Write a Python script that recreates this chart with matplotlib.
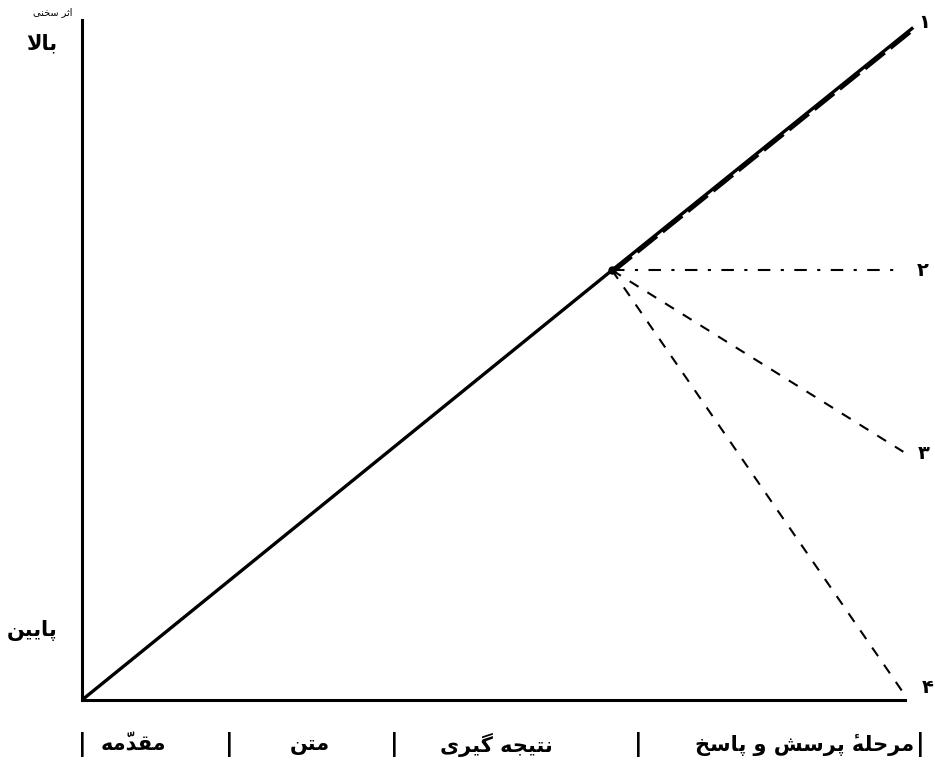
import matplotlib
matplotlib.use("Agg")
import matplotlib.pyplot as plt
import matplotlib.transforms as mtransforms

# ---- data (x: progress of the talk 0..100, y: effect 0..100) ----
main_x = [0, 64.4, 101.0]
main_y = [0, 63.2, 98.9]
branch_start = (64.4, 63.2)
branch_ends = {
    "2": (99.4, 63.2),
    "3": (99.8, 36.5),
    "4": (100.0, 0.7),
}
line_labels = ["۱", "۲", "۳", "۴"]
label_pos_x = [101.6, 101.4, 101.5, 102.0]
label_pos_y = [99.6, 63.2, 36.3, 1.8]

stage_names = ["مقدّمه", "متن", "نتیجه گیری", "مرحلهٔ پرسش و پاسخ"]
stage_centers = [6.2, 27.7, 50.3, 87.8]
stage_bounds = [0.0, 17.9, 37.9, 67.6, 101.8]

y_names = ["پایین", "بالا"]
y_pos = [10.6, 96.8]
y_title = "اثر سخنی"

# ---- minimal Persian shaping (matplotlib has no bidi / joining) ----
FORMS = {  # iso, fin, ini, med
    "ا": ("\uFE8D", "\uFE8E", None, None),
    "ب": ("\uFE8F", "\uFE90", "\uFE91", "\uFE92"),
    "پ": ("\uFB56", "\uFB57", "\uFB58", "\uFB59"),
    "ت": ("\uFE95", "\uFE96", "\uFE97", "\uFE98"),
    "ث": ("\uFE99", "\uFE9A", "\uFE9B", "\uFE9C"),
    "ج": ("\uFE9D", "\uFE9E", "\uFE9F", "\uFEA0"),
    "ح": ("\uFEA1", "\uFEA2", "\uFEA3", "\uFEA4"),
    "خ": ("\uFEA5", "\uFEA6", "\uFEA7", "\uFEA8"),
    "د": ("\uFEA9", "\uFEAA", None, None),
    "ر": ("\uFEAD", "\uFEAE", None, None),
    "س": ("\uFEB1", "\uFEB2", "\uFEB3", "\uFEB4"),
    "ش": ("\uFEB5", "\uFEB6", "\uFEB7", "\uFEB8"),
    "ق": ("\uFED5", "\uFED6", "\uFED7", "\uFED8"),
    "ل": ("\uFEDD", "\uFEDE", "\uFEDF", "\uFEE0"),
    "م": ("\uFEE1", "\uFEE2", "\uFEE3", "\uFEE4"),
    "ن": ("\uFEE5", "\uFEE6", "\uFEE7", "\uFEE8"),
    "ه": ("\uFEE9", "\uFEEA", "\uFEEB", "\uFEEC"),
    "و": ("\uFEED", "\uFEEE", None, None),
    "ی": ("\uFBFC", "\uFBFD", "\uFBFE", "\uFBFF"),
    "گ": ("\uFB92", "\uFB93", "\uFB94", "\uFB95"),
}
MARKS = {"\u0651", "\u0654"}


def shape(text):
    chars = list(text)

    def prev_letter(i):
        j = i - 1
        while j >= 0 and chars[j] in MARKS:
            j -= 1
        return chars[j] if j >= 0 and chars[j] in FORMS else None

    def next_letter(i):
        j = i + 1
        while j < len(chars) and chars[j] in MARKS:
            j += 1
        return chars[j] if j < len(chars) and chars[j] in FORMS else None

    clusters = []
    i = 0
    while i < len(chars):
        c = chars[i]
        if c in FORMS:
            p = prev_letter(i)
            n = next_letter(i)
            join_prev = p is not None and FORMS[p][2] is not None
            if c == "ل" and n == "ا":
                clusters.append("\uFEFC" if join_prev else "\uFEFB")
                i += 2
                continue
            join_next = FORMS[c][2] is not None and n is not None
            iso, fin, ini, med = FORMS[c]
            if join_prev and join_next:
                g = med
            elif join_prev:
                g = fin
            elif join_next:
                g = ini
            else:
                g = iso
            clusters.append(g)
        elif c in MARKS and clusters:
            # zero-width mark is drawn over the glyph that follows it
            clusters[-1] = c + clusters[-1]
        else:
            clusters.append(c)
        i += 1
    return "".join(reversed(clusters))


plt.rcParams["font.family"] = ["DejaVu Sans"]

fig = plt.figure(figsize=(9.35, 7.62), dpi=100)
ax = fig.add_axes([82 / 935, 62 / 762, 823 / 935, 680 / 762])
ax.set_xlim(0, 100)
ax.set_ylim(0, 100)

for s in ("top", "right"):
    ax.spines[s].set_visible(False)
for s in ("left", "bottom"):
    ax.spines[s].set_linewidth(2.2)
    ax.spines[s].set_color("black")

# main line and its dashed continuation (curve 1)
ax.plot(main_x, main_y, color="black", lw=2.4, solid_capstyle="butt", clip_on=False)
ax.plot(main_x[1:], [v - 0.35 for v in main_y[1:]], color="black", lw=2.6,
        dashes=(7, 2), clip_on=False)
ax.plot([branch_start[0]], [branch_start[1]], "o", color="black", ms=5, clip_on=False)

# branches 2, 3, 4
bx, by = branch_start
ex, ey = branch_ends["2"]
ax.plot([bx, ex], [by, ey], color="black", lw=1.5, dashes=(6, 5, 1.5, 5), clip_on=False)
ex, ey = branch_ends["3"]
ax.plot([bx, ex], [by, ey], color="black", lw=1.5, dashes=(5, 5), clip_on=False)
ex, ey = branch_ends["4"]
ax.plot([bx, ex], [by, ey], color="black", lw=1.5, dashes=(5, 5), clip_on=False)

for lab, lx, ly in zip(line_labels, label_pos_x, label_pos_y):
    ax.text(lx, ly, lab, fontsize=14, fontweight="bold", ha="left", va="center",
            clip_on=False)

# y axis labels
ax.set_yticks(y_pos)
ax.set_yticklabels([shape(t) for t in y_names], fontsize=15, fontweight="bold")
ax.tick_params(axis="y", length=0, pad=18)
ax.set_xticks([])
ax.text(-1.2, 100.5, shape(y_title), fontsize=7, ha="right", va="bottom",
        clip_on=False)

# stage labels under the x axis
trans = mtransforms.blended_transform_factory(ax.transData, ax.transAxes)
for name, cx in zip(stage_names, stage_centers):
    ax.text(cx, -0.066, shape(name), transform=trans, fontsize=15,
            fontweight="bold", ha="center", va="center", clip_on=False)
for bxp in stage_bounds:
    ax.text(bxp, -0.066, "|", transform=trans, fontsize=17, fontweight="bold",
            ha="center", va="center", clip_on=False)

fig.savefig("out.png", dpi=100)
